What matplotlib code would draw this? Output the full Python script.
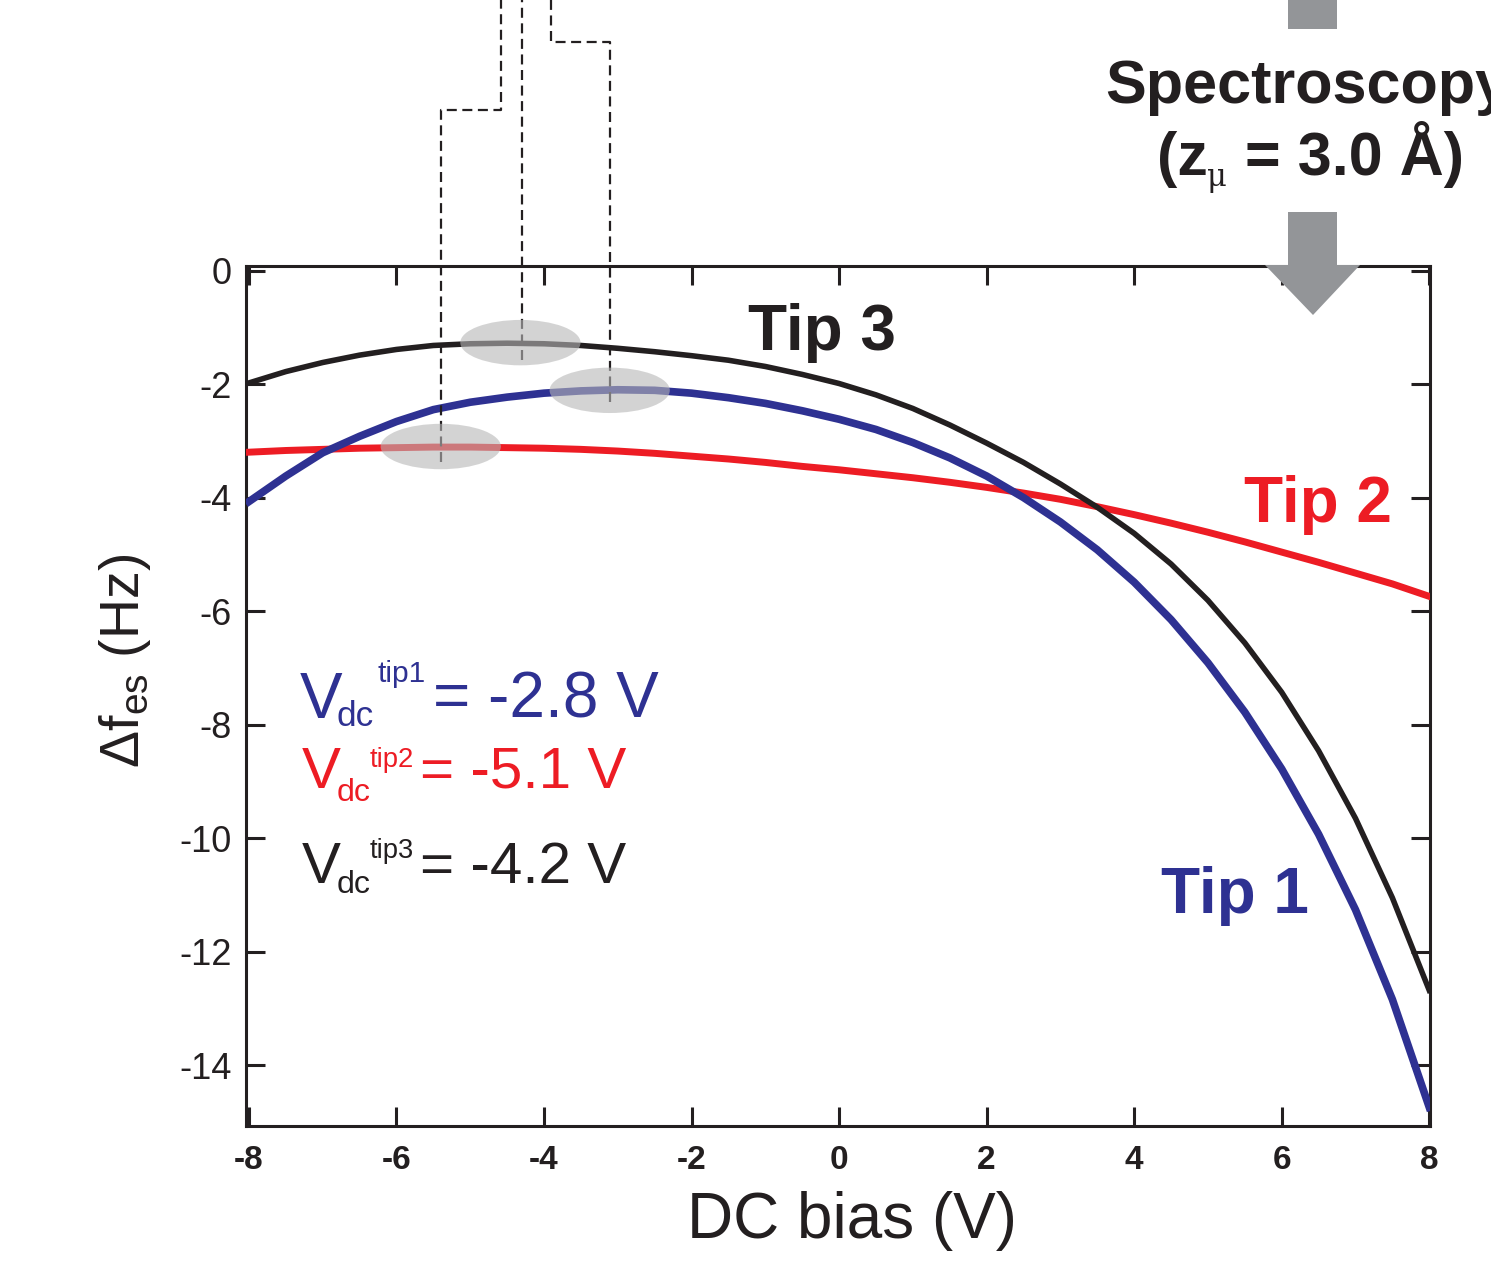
"""
Tip 1-3 の静電力スペクトル (Δf_es vs DC bias) の再現
"""

import matplotlib

matplotlib.use("Agg")
import matplotlib.pyplot as plt
from matplotlib.patches import Ellipse, Rectangle, Polygon

# ---- データ ----
bias = [-8.0, -7.5, -7.0, -6.5, -6.0, -5.5, -5.0, -4.5, -4.0, -3.5, -3.0,
        -2.5, -2.0, -1.5, -1.0, -0.5, 0.0, 0.5, 1.0, 1.5, 2.0, 2.5,
        3.0, 3.5, 4.0, 4.5, 5.0, 5.5, 6.0, 6.5, 7.0, 7.5, 8.0]

tip1 = [-4.07, -3.62, -3.21, -2.92, -2.66, -2.45, -2.32, -2.23, -2.16, -2.12, -2.10,
        -2.11, -2.16, -2.24, -2.34, -2.47, -2.62, -2.80, -3.03, -3.30, -3.62, -4.00,
        -4.43, -4.92, -5.49, -6.15, -6.91, -7.78, -8.78, -9.93, -11.26, -12.84, -14.74]

tip2 = [-3.20, -3.17, -3.15, -3.13, -3.12, -3.11, -3.11, -3.12, -3.13, -3.15, -3.18,
        -3.22, -3.27, -3.32, -3.38, -3.45, -3.51, -3.58, -3.65, -3.73, -3.82, -3.92,
        -4.03, -4.16, -4.30, -4.45, -4.61, -4.78, -4.96, -5.14, -5.33, -5.52, -5.74]

tip3 = [-1.98, -1.78, -1.62, -1.49, -1.39, -1.32, -1.29, -1.28, -1.29, -1.32, -1.37,
        -1.43, -1.50, -1.58, -1.69, -1.83, -1.99, -2.19, -2.43, -2.72, -3.04, -3.38,
        -3.76, -4.17, -4.63, -5.17, -5.81, -6.56, -7.43, -8.46, -9.65, -11.05, -12.68]

# 各探針の極大位置 (楕円で強調)  順: tip1, tip2, tip3
peak_x = [-3.11, -5.40, -4.32]
peak_y = [-2.11, -3.10, -1.27]

# 上パネルのヒストグラムから下りてくる破線
hist_a_x = [-5.40, -5.40, -4.58, -4.58]
hist_a_y = [-3.38, 2.83, 2.83, 5.5]
hist_b_x = [-4.30, -4.30]
hist_b_y = [-1.57, 5.5]
hist_c_x = [-3.11, -3.11, -3.91, -3.91]
hist_c_y = [-2.31, 4.03, 4.03, 5.5]

xticks = [-8, -6, -4, -2, 0, 2, 4, 6, 8]
yticks = [0, -2, -4, -6, -8, -10, -12, -14]

BLUE = "#2E3192"
RED = "#ED1C24"
BLACK = "#231F20"
GRAY = "#939598"

W, H = 1491, 1263

plt.rcParams["font.family"] = ["Liberation Sans", "DejaVu Sans"]
plt.rcParams["axes.unicode_minus"] = False
plt.rcParams["mathtext.fontset"] = "custom"
plt.rcParams["mathtext.rm"] = "Liberation Sans"


def fx(px):
    return px / W


def fy(py):
    return 1 - py / H


fig = plt.figure(figsize=(W / 100, H / 100), dpi=100)
ax = fig.add_axes([fx(246), fy(1126), 1184 / W, 860 / H])

# 曲線
ax.plot(bias, tip2, color=RED, lw=5.0, zorder=3)
ax.plot(bias, tip1, color=BLUE, lw=5.5, zorder=4)
ax.plot(bias, tip3, color=BLACK, lw=4.0, zorder=5)

# 破線 (軸の外まで伸ばす)
for xs, ys in [(hist_a_x, hist_a_y), (hist_b_x, hist_b_y), (hist_c_x, hist_c_y)]:
    ax.plot(xs, ys, color=BLACK, lw=1.6, dashes=(4.5, 2.5), clip_on=False, zorder=6)

# 極大位置の楕円
for px_, py_ in zip(peak_x, peak_y):
    ax.add_patch(Ellipse((px_, py_), 1.63, 0.80, facecolor="#b7b7b7",
                         edgecolor="none", alpha=0.6, zorder=7))

ax.set_xlim(-8.04, 8.01)
ax.set_ylim(-15.07, 0.08)
ax.set_xticks(xticks)
ax.set_yticks(yticks)
ax.set_xticklabels([str(t) for t in xticks], fontsize=24, fontweight="bold")
ax.set_yticklabels([str(t) for t in yticks], fontsize=26)
ax.tick_params(axis="both", direction="in", length=14, width=2.2,
               top=True, right=True, colors=BLACK)
ax.tick_params(axis="x", pad=14)
ax.tick_params(axis="y", pad=10)
for sp in ax.spines.values():
    sp.set_linewidth(2.2)
    sp.set_color(BLACK)

# 軸ラベル
fig.text(fx(852), fy(1238), "DC bias (V)", fontsize=46, ha="center",
         va="baseline", color=BLACK)
fig.text(fx(125), fy(661), r"Δf$_{\mathregular{es}}$ (Hz)", fontsize=40,
         rotation=90, ha="center", va="center", color=BLACK)

# Tip ラベル
fig.text(fx(822), fy(350), "Tip 3", fontsize=46, fontweight="bold",
         ha="center", va="baseline", color=BLACK)
fig.text(fx(1318), fy(522), "Tip 2", fontsize=46, fontweight="bold",
         ha="center", va="baseline", color=RED)
fig.text(fx(1235), fy(913), "Tip 1", fontsize=46, fontweight="bold",
         ha="center", va="baseline", color=BLUE)


# V_dc 表記
def vdc(color, size, x_v, base, x_dc, base_dc, x_sup, base_sup, sup, x_eq, value):
    fig.text(fx(x_v), fy(base), "V", fontsize=size, color=color, va="baseline")
    fig.text(fx(x_dc), fy(base_dc), "dc", fontsize=size * 0.55, color=color,
             va="baseline")
    fig.text(fx(x_sup), fy(base_sup), sup, fontsize=size * 0.47, color=color,
             va="baseline")
    fig.text(fx(x_eq), fy(base), "= " + value, fontsize=size, color=color,
             va="baseline")


vdc(BLUE, 46, 300, 718, 337, 726, 377, 682, "tip1", 433, "-2.8 V")
vdc(RED, 42, 302, 788, 337, 801, 370, 767, "tip2", 420, "-5.1 V")
vdc(BLACK, 42, 302, 883, 337, 893, 370, 858, "tip3", 420, "-4.2 V")

# 右上: Spectroscopy 表記と矢印
fig.text(fx(1105), fy(103), "Spectroscopy", fontsize=44, fontweight="bold",
         ha="left", va="baseline", color=BLACK)
fig.text(fx(1157), fy(175), "(z", fontsize=44, fontweight="bold",
         ha="left", va="baseline", color=BLACK)
fig.text(fx(1207), fy(186), "μ", fontsize=22, family=["DejaVu Serif"],
         ha="left", va="baseline", color=BLACK)
fig.text(fx(1245), fy(175), "= 3.0 Å)", fontsize=44, fontweight="bold",
         ha="left", va="baseline", color=BLACK)

fig.patches.append(Rectangle((fx(1288), fy(29)), 49 / W, 29 / H,
                             transform=fig.transFigure, facecolor=GRAY,
                             edgecolor="none", zorder=10))
fig.patches.append(Rectangle((fx(1288), fy(266)), 49 / W, 54 / H,
                             transform=fig.transFigure, facecolor=GRAY,
                             edgecolor="none", zorder=10))
fig.patches.append(Polygon([(fx(1265), fy(265)), (fx(1360), fy(265)),
                            (fx(1313), fy(315))],
                           transform=fig.transFigure, facecolor=GRAY,
                           edgecolor="none", zorder=10))

fig.savefig("out.png", dpi=100)
